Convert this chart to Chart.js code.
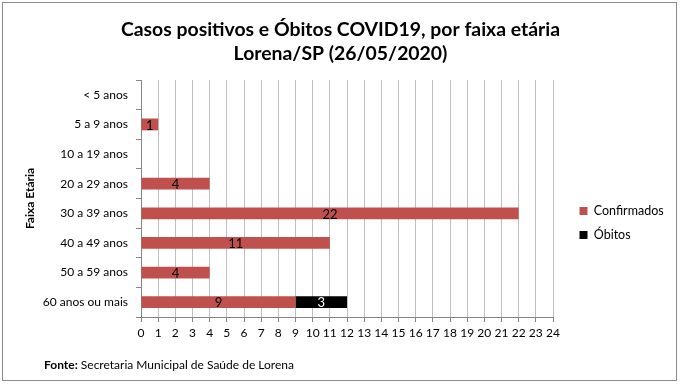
<!DOCTYPE html>
<html>
<head>
<meta charset="utf-8">
<script src="https://cdn.jsdelivr.net/npm/chart.js@4/dist/chart.umd.min.js"></script>
<style>
  html,body{margin:0;padding:0;background:#fff;}
  #wrap{position:relative;width:681px;height:388px;overflow:hidden;}
  #frame{position:absolute;left:2px;top:2px;width:675px;height:379px;box-sizing:border-box;border:1px solid #8c8c8c;pointer-events:none;}
  canvas{position:absolute;left:0;top:0;}
  #fonte{position:absolute;left:44px;top:357px;font-family:Lato,"Open Sans",sans-serif;font-size:12px;color:#000;white-space:nowrap;}
</style>
</head>
<body>
<div id="wrap">
  <canvas id="c" width="681" height="388"></canvas>
  <div id="frame"></div>
  <div id="fonte"><b>Fonte:</b> Secretaria Municipal de Saúde de Lorena</div>
</div>
<script>
const categories = ["< 5 anos", "5 a 9 anos", "10 a 19 anos", "20 a 29 anos", "30 a 39 anos", "40 a 49 anos", "50 a 59 anos", "60 anos ou mais"];
const confirmados = [0, 1, 0, 4, 22, 11, 4, 9];
const obitos = [0, 0, 0, 0, 0, 0, 0, 3];
const seriesNames = ["Confirmados", "Óbitos"];
const titleLines = ["Casos positivos e Óbitos COVID19, por faixa etária", "Lorena/SP (26/05/2020)"];
const yAxisTitle = "Faixa Etária";
const xMin = 0, xMax = 24, xStep = 1;

const FONT = 'Lato, "Open Sans", sans-serif';

const valueLabels = {
  id: 'valueLabels',
  afterDatasetsDraw(chart) {
    const ctx = chart.ctx;
    ctx.save();
    ctx.font = '13px ' + FONT;
    ctx.textAlign = 'center';
    ctx.textBaseline = 'middle';
    chart.data.datasets.forEach((ds, di) => {
      const meta = chart.getDatasetMeta(di);
      meta.data.forEach((el, i) => {
        const v = ds.data[i];
        if (!v) return;
        ctx.fillStyle = ds.labelColor;
        ctx.fillText(String(v), (el.x + el.base) / 2, el.y + 1);
      });
    });
    ctx.restore();
  }
};

const legendPlace = {
  id: 'legendPlace',
  beforeLayout(chart) {
    const lg = chart.legend;
    if (lg && !lg._patched) {
      const f = lg.fit;
      lg.fit = function () { f.call(this); this.width = 128; };
      lg._patched = true;
    }
  },
  afterLayout(chart) {
    const lg = chart.legend;
    if (!lg) return;
    const w = lg.width;
    lg.left = 568; lg.right = 568 + w;
    lg.top = 80; lg.bottom = 366;
  }
};

new Chart(document.getElementById('c'), {
  type: 'bar',
  data: {
    labels: categories,
    datasets: [
      { label: seriesNames[0], data: confirmados, backgroundColor: '#C0504D', labelColor: '#000', barPercentage: 0.4, categoryPercentage: 1 },
      { label: seriesNames[1], data: obitos, backgroundColor: '#000000', labelColor: '#fff', barPercentage: 0.4, categoryPercentage: 1 }
    ]
  },
  options: {
    indexAxis: 'y',
    responsive: false,
    animation: false,
    layout: { padding: { left: 0, right: 0, top: 0, bottom: 0 } },
    scales: {
      x: {
        stacked: true,
        min: xMin, max: xMax,
        ticks: { stepSize: xStep, color: '#000', font: { family: FONT, size: 12 }, padding: 4, maxRotation: 0, autoSkip: false },
        grid: { color: '#c0c0c0', tickColor: '#868686', tickLength: 5 },
        border: { color: '#868686' },
        afterFit(s) { s.height = 71; }
      },
      y: {
        stacked: true,
        offset: true,
        ticks: { color: '#000', font: { family: FONT, size: 12 }, padding: 8 },
        grid: { offset: true, drawOnChartArea: false, tickLength: 5, tickColor: '#868686' },
        border: { color: '#868686' },
        title: { display: true, text: yAxisTitle, color: '#000', font: { family: FONT, size: 12, weight: 'bold' }, padding: { top: 23, bottom: 0 } },
        afterFit(s) { s.width = 141; }
      }
    },
    plugins: {
      title: {
        display: true,
        text: titleLines,
        color: '#000',
        font: { family: FONT, size: 19.4, weight: 'bold', lineHeight: 1.25 },
        padding: { top: 17.5, bottom: 14 }
      },
      legend: {
        position: 'right',
        labels: { boxWidth: 8, boxHeight: 8, padding: 11.5, color: '#000', font: { family: FONT, size: 12.5 } }
      },
      tooltip: { enabled: false }
    }
  },
  plugins: [valueLabels, legendPlace]
});
</script>
</body>
</html>
